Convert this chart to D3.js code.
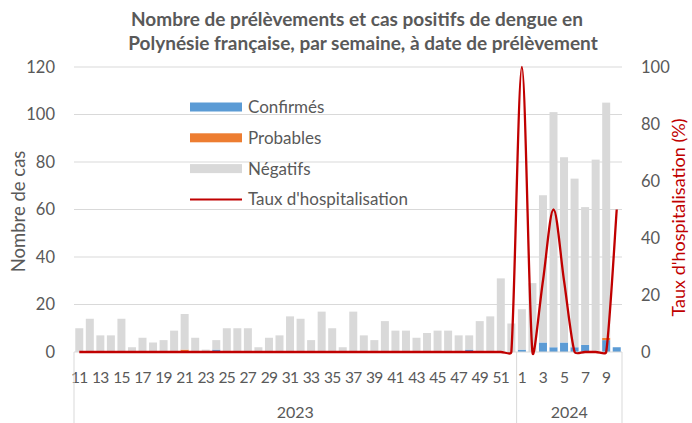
<!DOCTYPE html>
<html>
<head>
<meta charset="utf-8">
<script src="https://cdn.jsdelivr.net/npm/d3@7"></script>
<style>
  body { margin: 0; background: #fff; }
  svg { display: block; font-family: Lato, "Noto Sans", sans-serif; }
</style>
</head>
<body>
<div id="chart"></div>
<script>
const weeks2023 = d3.range(11, 53);
const weeks2024 = d3.range(1, 11);

// stacked bars: confirmés, probables, négatifs (2023 wk 11-52, then 2024 wk 1-10)
const confirmes = [
  0,0,0,0,0,0,0,0,0,0, 0,0,0,1,0,0,0,0,0,0,
  0,0,0,0,0,0,0,0,0,0, 0,0,0,0,0,0,0,1,0,0,
  0,0,
  1,0,4,2,4,2,3,0,5,2
];
const probables = [
  0,0,0,0,0,0,0,0,0,0, 1,0,0,0,0,0,0,0,0,0,
  0,0,0,0,0,0,0,0,0,0, 0,0,0,0,0,0,0,0,0,0,
  0,0,
  0,0,0,0,0,0,0,0,1,0
];
const negatifs = [
  10,14,7,7,14,2,6,4,5,9, 15,6,1,4,10,10,10,2,6,7,
  15,14,5,17,10,2,17,7,5,13, 9,9,6,8,9,9,7,6,13,15,
  31,12,
  17,29,62,99,78,71,58,81,99,0
];
const taux = [
  0,0,0,0,0,0,0,0,0,0, 0,0,0,0,0,0,0,0,0,0,
  0,0,0,0,0,0,0,0,0,0, 0,0,0,0,0,0,0,0,0,0,
  0,0,
  100,0,25,50,25,0,0,0,0,50
];
const leftTicks = [0, 20, 40, 60, 80, 100, 120];
const rightTicks = [0, 20, 40, 60, 80, 100];

const width = 692, height = 423;
const margin = { top: 67, right: 70, bottom: 71, left: 74 };
const w = width - margin.left - margin.right;
const h = height - margin.top - margin.bottom;

const textCol = '#595959';
const colors = { c: '#5b9bd5', p: '#ed7d31', n: '#d9d9d9', line: '#c00000' };

const cats = weeks2023.map(d => '2023-' + d).concat(weeks2024.map(d => '2024-' + d));
const data = cats.map((k, i) => ({
  key: k,
  week: +k.split('-')[1],
  c: confirmes[i], p: probables[i], n: negatifs[i], t: taux[i]
}));

// smoothed curve close to a spreadsheet "smoothed line":
// catmull-rom tangents, shortened on short segments so it barely overshoots
function SmoothCurve (context) { this._context = context; }
SmoothCurve.prototype = {
  areaStart () {}, areaEnd () {},
  lineStart () { this._pts = []; },
  point (x, y) { this._pts.push([+x, +y]); },
  lineEnd () {
    const p = this._pts, n = p.length, ctx = this._context;
    if (!n) return;
    const dist = (a, b) => Math.hypot(a[0] - b[0], a[1] - b[1]);
    const tan = i => {
      const a = p[Math.max(0, i - 1)], b = p[Math.min(n - 1, i + 1)];
      return [(b[0] - a[0]) / 6, (b[1] - a[1]) / 6];
    };
    const scale = (i, side) => {
      const dp = i > 0 ? dist(p[i - 1], p[i]) : 0;
      const dn = i < n - 1 ? dist(p[i], p[i + 1]) : 0;
      if (dp + dn === 0) return 0;
      return Math.min(1, 2 * (side < 0 ? dp : dn) / (dp + dn));
    };
    ctx.moveTo(p[0][0], p[0][1]);
    for (let i = 0; i < n - 1; i++) {
      const t0 = tan(i), t1 = tan(i + 1);
      const s0 = scale(i, 1), s1 = scale(i + 1, -1);
      ctx.bezierCurveTo(
        p[i][0] + t0[0] * s0, p[i][1] + t0[1] * s0,
        p[i + 1][0] - t1[0] * s1, p[i + 1][1] - t1[1] * s1,
        p[i + 1][0], p[i + 1][1]);
    }
  }
};
const curveSmooth = ctx => new SmoothCurve(ctx);

const svg = d3.select('#chart').append('svg')
  .attr('width', width).attr('height', height);

const plot = svg.append('g')
  .attr('transform', `translate(${margin.left},${margin.top})`);

const x = d3.scaleBand().domain(cats).range([0, w]).paddingInner(0.24).paddingOuter(0.12);
const y = d3.scaleLinear().domain([0, 120]).range([h, 0]);
const y2 = d3.scaleLinear().domain([0, 100]).range([h, 0]);

// gridlines
plot.append('g')
  .selectAll('line').data(leftTicks.slice(1)).enter().append('line')
  .attr('x1', 0).attr('x2', w)
  .attr('y1', d => y(d)).attr('y2', d => y(d))
  .attr('stroke', '#d9d9d9').attr('stroke-width', 1);

// left axis
plot.append('g')
  .call(d3.axisLeft(y).tickValues(leftTicks).tickSize(0).tickPadding(19))
  .attr('font-size', 16.5).attr('font-family', null)
  .call(g => g.select('.domain').remove())
  .call(g => g.selectAll('text').attr('fill', textCol));

// right axis
plot.append('g')
  .attr('transform', `translate(${w},0)`)
  .call(d3.axisRight(y2).tickValues(rightTicks).tickSize(0).tickPadding(19))
  .attr('font-size', 16.5).attr('font-family', null)
  .call(g => g.select('.domain').remove())
  .call(g => g.selectAll('text').attr('fill', textCol));

// stacked bars
const stack = d3.stack().keys(['c', 'p', 'n'])(data);
plot.append('g')
  .selectAll('g').data(stack).enter().append('g')
  .attr('fill', s => colors[s.key])
  .selectAll('rect').data(s => s).enter().append('rect')
  .attr('x', d => x(d.data.key))
  .attr('width', x.bandwidth())
  .attr('y', d => y(d[1]))
  .attr('height', d => y(d[0]) - y(d[1]));

// baseline
plot.append('line')
  .attr('x1', 0).attr('x2', w).attr('y1', h).attr('y2', h)
  .attr('stroke', '#d9d9d9');

// hospitalisation rate line
const line = d3.line()
  .x(d => x(d.key) + x.bandwidth() / 2)
  .y(d => y2(d.t))
  .curve(curveSmooth);
plot.append('path')
  .datum(data)
  .attr('fill', 'none')
  .attr('stroke', colors.line)
  .attr('stroke-width', 2.3)
  .attr('d', line);

// x axis: week labels
const xa = plot.append('g').attr('transform', `translate(0,${h})`);
xa.selectAll('text.wk').data(data.filter(d => d.week % 2 === 1)).enter().append('text')
  .attr('class', 'wk')
  .attr('x', d => x(d.key) + x.bandwidth() / 2)
  .attr('y', 31)
  .attr('text-anchor', 'middle')
  .attr('font-size', 15.5)
  .attr('letter-spacing', -0.7)
  .attr('fill', textCol)
  .text(d => d.week);

// year groups
const step = x.step();
const sep = x(cats[weeks2023.length]) - step * x.paddingInner() / 2;
const groups = [
  { label: '2023', x0: 0, x1: sep },
  { label: '2024', x0: sep, x1: w }
];
xa.selectAll('line.sep').data([0, sep, w]).enter().append('line')
  .attr('x1', d => d).attr('x2', d => d)
  .attr('y1', 0).attr('y2', height - margin.top - h)
  .attr('stroke', '#d9d9d9');
xa.selectAll('text.yr').data(groups).enter().append('text')
  .attr('x', d => (d.x0 + d.x1) / 2)
  .attr('y', 66)
  .attr('text-anchor', 'middle')
  .attr('font-size', 16)
  .attr('fill', textCol)
  .text(d => d.label);

// axis titles
svg.append('text')
  .attr('transform', `translate(25,${margin.top + h / 2 + 2}) rotate(-90)`)
  .attr('text-anchor', 'middle')
  .attr('font-size', 18.5)
  .attr('fill', textCol)
  .text('Nombre de cas');
svg.append('text')
  .attr('transform', `translate(685,${margin.top + h / 2 + 8}) rotate(-90)`)
  .attr('text-anchor', 'middle')
  .attr('font-size', 18)
  .attr('fill', colors.line)
  .text("Taux d'hospitalisation (%)");

// title
const title = svg.append('text')
  .attr('text-anchor', 'middle')
  .attr('font-size', 19)
  .attr('font-weight', 'bold')
  .attr('fill', textCol);
title.append('tspan').attr('x', 357).attr('y', 26)
  .text('Nombre de prélèvements et cas positifs de dengue en');
title.append('tspan').attr('x', 363).attr('y', 50)
  .text('Polynésie française, par semaine, à date de prélèvement');

// legend
const legendItems = [
  { label: 'Confirmés', color: colors.c, type: 'rect' },
  { label: 'Probables', color: colors.p, type: 'rect' },
  { label: 'Négatifs', color: colors.n, type: 'rect' },
  { label: "Taux d'hospitalisation", color: colors.line, type: 'line' }
];
const legend = svg.append('g').attr('transform', 'translate(190,107)');
const li = legend.selectAll('g').data(legendItems).enter().append('g')
  .attr('transform', (d, i) => `translate(0,${i * 30.8})`);
li.filter(d => d.type === 'rect').append('rect')
  .attr('x', 0).attr('y', -4.5).attr('width', 52).attr('height', 9)
  .attr('fill', d => d.color);
li.filter(d => d.type === 'line').append('line')
  .attr('x1', 0).attr('x2', 52).attr('y1', 0).attr('y2', 0)
  .attr('stroke', d => d.color).attr('stroke-width', 2);
li.append('text')
  .attr('x', 58).attr('y', 0).attr('dy', '0.35em')
  .attr('font-size', 17)
  .attr('fill', textCol)
  .text(d => d.label);
</script>
</body>
</html>
